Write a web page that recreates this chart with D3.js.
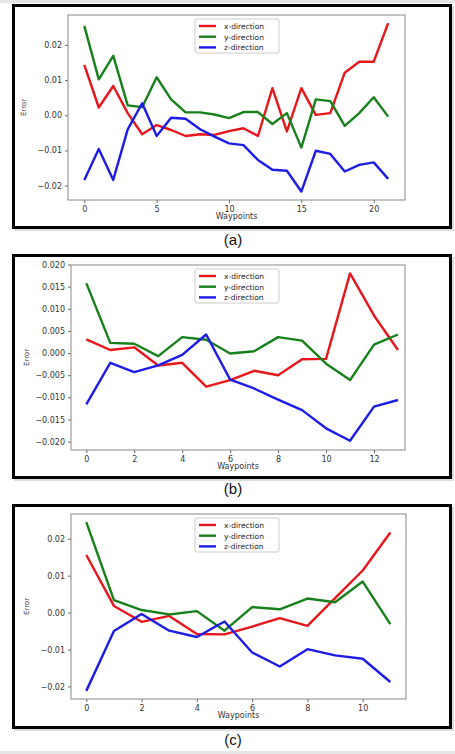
<!DOCTYPE html>
<html><head><meta charset="utf-8">
<script src="https://d3js.org/d3.v7.min.js"></script>
<style>body{margin:0;background:#fff;}svg{display:block;}</style>
</head><body>
<script>
// Panel (a)
const aX = [0.0143,0.0022,0.0083,0.0006,-0.0054,-0.0028,-0.0042,-0.0059,-0.0054,-0.0056,-0.0045,-0.0037,-0.0059,0.0077,-0.0046,0.0077,0.0001,0.0006,0.0121,0.0152,0.0152,0.0262];
const aY = [0.0254,0.0102,0.0169,0.0028,0.0023,0.0108,0.0045,0.0008,0.0008,0.0002,-0.0008,0.0009,0.0009,-0.0025,0.0006,-0.0092,0.0045,0.0040,-0.0030,0.0006,0.0051,-0.0004];
const aZ = [-0.0184,-0.0096,-0.0184,-0.0040,0.0034,-0.0059,-0.0007,-0.0010,-0.0040,-0.0061,-0.0080,-0.0085,-0.0127,-0.0155,-0.0158,-0.0217,-0.0101,-0.0110,-0.0160,-0.0141,-0.0134,-0.0181];
const aXTicks = [0,5,10,15,20];
const aYTicks = [-0.02,-0.01,0,0.01,0.02];
// Panel (b)
const bX = [0.0031,0.0007,0.0013,-0.0028,-0.0022,-0.0076,-0.0061,-0.0040,-0.0050,-0.0014,-0.0013,0.0180,0.0085,0.0007];
const bY = [0.0158,0.0023,0.0021,-0.0007,0.0036,0.0030,-0.0001,0.0004,0.0036,0.0028,-0.0024,-0.0061,0.0019,0.0042];
const bZ = [-0.0116,-0.0022,-0.0043,-0.0028,-0.0004,0.0042,-0.0060,-0.0080,-0.0105,-0.0129,-0.0170,-0.0198,-0.0121,-0.0106];
const bXTicks = [0,2,4,6,8,10,12];
const bYTicks = [-0.02,-0.015,-0.01,-0.005,0,0.005,0.01,0.015,0.02];
// Panel (c)
const cX = [0.0156,0.0018,-0.0025,-0.0009,-0.0058,-0.0059,-0.0038,-0.0015,-0.0036,0.0039,0.0114,0.0217];
const cY = [0.0245,0.0034,0.0007,-0.0005,0.0004,-0.0049,0.0015,0.0009,0.0038,0.0028,0.0084,-0.0031];
const cZ = [-0.0212,-0.0050,-0.0004,-0.0049,-0.0066,-0.0024,-0.0108,-0.0146,-0.0099,-0.0116,-0.0125,-0.0188];
const cXTicks = [0,2,4,6,8,10];
const cYTicks = [-0.02,-0.01,0,0.01,0.02];

const seriesNames = ["x-direction","y-direction","z-direction"];
const colors = ["#e8161b","#17801a","#1c1ce6"];
const captions = ["(a)","(b)","(c)"];

const svg = d3.select("body").append("svg").attr("width",455).attr("height",754);
svg.append("rect").attr("width",455).attr("height",3).attr("fill","#e6e6e6");
svg.append("rect").attr("y",751).attr("width",455).attr("height",3).attr("fill","#e6e6e6");

const panels = [
  {data:[aX,aY,aZ], xt:aXTicks, yt:aYTicks, fmt:d3.format(".2f"), top:5, ax:[68,405,15,200], xd:[84.3,373.7,0,20], yd:[-0.0241,0.0285], cap:240},
  {data:[bX,bY,bZ], xt:bXTicks, yt:bYTicks, fmt:d3.format(".3f"), top:255, ax:[71,405,265,450], xd:[86.3,374,0,12], yd:[-0.0219,0.0199], cap:489},
  {data:[cX,cY,cZ], xt:cXTicks, yt:cYTicks, fmt:d3.format(".2f"), top:505, ax:[71,406,514,699], xd:[86.3,362.7,0,10], yd:[-0.0234,0.0267], cap:740}
];

panels.forEach((p,i)=>{
  const g = svg.append("g");
  g.append("rect").attr("x",14).attr("y",p.top+2).attr("width",440).attr("height",224).attr("fill","#bbb").attr("opacity",0.5);
  g.append("rect").attr("x",13.5).attr("y",p.top+0.5).attr("width",437).attr("height",222)
    .attr("fill","#fff").attr("stroke","#000").attr("stroke-width",3);
  const [x0,x1,y0,y1] = p.ax;
  const x = d3.scaleLinear().domain([p.xd[2],p.xd[3]]).range([p.xd[0],p.xd[1]]);
  const y = d3.scaleLinear().domain(p.yd).range([y1,y0]);
  const xa = g.append("g").attr("transform",`translate(0,${y1})`)
    .call(d3.axisBottom(x).tickValues(p.xt).tickSize(3).tickFormat(d3.format("d")));
  const ya = g.append("g").attr("transform",`translate(${x0},0)`)
    .call(d3.axisLeft(y).tickValues(p.yt).tickSize(3).tickFormat(d=>p.fmt(d).replace("-","\u2212")));
  [xa,ya].forEach(a=>{
    a.select(".domain").remove();
    a.selectAll("line").attr("stroke","#666");
    a.selectAll("text").attr("font-family","DejaVu Sans").attr("font-size",8).attr("fill","#333");
  });
  g.append("rect").attr("x",x0).attr("y",y0).attr("width",x1-x0).attr("height",y1-y0)
    .attr("fill","none").attr("stroke","#888").attr("stroke-width",1);
  const line = d3.line().x((d,k)=>x(k)).y(d=>y(d));
  p.data.forEach((s,k)=>{
    g.append("path").datum(s).attr("d",line).attr("fill","none")
      .attr("stroke",colors[k]).attr("stroke-width",2.4).attr("stroke-linejoin","round");
  });
  g.append("text").attr("x",(x0+x1)/2).attr("y",y1+19).attr("text-anchor","middle")
    .attr("font-family","DejaVu Sans").attr("font-size",8).attr("fill","#333").text("Waypoints");
  g.append("text").attr("transform",`translate(${x0-42},${(y0+y1)/2}) rotate(-90)`)
    .attr("text-anchor","middle").attr("font-family","DejaVu Sans").attr("font-size",7).attr("fill","#333").text("Error");
  const lx = 195, ly = y0+4;
  g.append("rect").attr("x",lx).attr("y",ly).attr("width",84).attr("height",34)
    .attr("fill","#fff").attr("stroke","#ccc").attr("rx",2);
  seriesNames.forEach((n,k)=>{
    const yy = ly+7+k*10.7;
    g.append("line").attr("x1",lx+4).attr("x2",lx+21).attr("y1",yy).attr("y2",yy)
      .attr("stroke",colors[k]).attr("stroke-width",2.4);
    g.append("text").attr("x",lx+29).attr("y",yy+3).attr("font-family","DejaVu Sans")
      .attr("font-size",7.5).attr("fill","#222").text(n);
  });
  svg.append("text").attr("x",233).attr("y",p.cap+5).attr("text-anchor","middle")
    .attr("font-family","Liberation Sans").attr("font-size",15).attr("fill","#111").text(captions[i]);
});
</script>
</body></html>
